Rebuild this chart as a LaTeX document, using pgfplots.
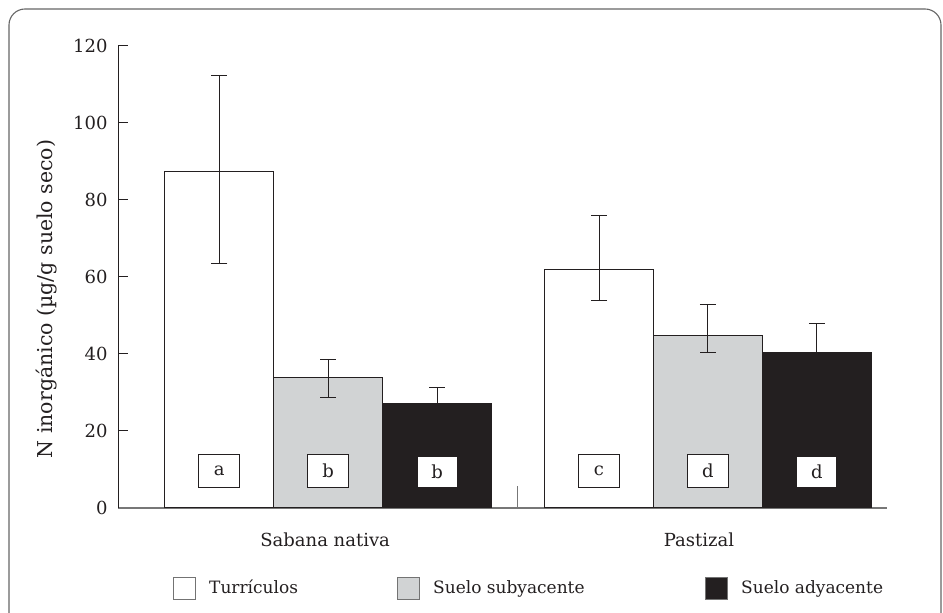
\documentclass[border=0pt]{standalone}
\usepackage{fontspec}
\setmainfont{DejaVu Serif}
\usepackage{pgfplots}
\pgfplotsset{compat=1.18}
\definecolor{barblack}{HTML}{231F20}
\definecolor{bargray}{HTML}{D1D3D4}
\definecolor{axgray}{HTML}{777777}
\begin{document}
\begin{tikzpicture}[font=\fontsize{18}{21}\selectfont]
\useasboundingbox (0,0) rectangle (943pt,613pt);
\draw[black!60, line width=1.1pt, rounded corners=16pt] (9pt,-10pt) -- (9pt,604pt) -- (941pt,604pt) -- (941pt,-10pt);
\begin{axis}[
  at={(118pt,105pt)}, anchor=south west,
  width=769pt, height=462pt, scale only axis,
  xmin=0.07, xmax=7.13, ymin=0, ymax=120,
  axis x line=bottom, axis y line=left,
  x axis line style={-, draw=axgray, line width=1.6pt},
  y axis line style={-, draw=barblack, line width=1pt},
  ytick={0,20,...,120},
  xtick={1.972,5.404}, xticklabels={Sabana nativa, Pastizal},
  xtick style={draw=none},
  ytick style={draw=barblack, line width=1pt},
  major tick length=10pt, tick align=inside,
  /pgf/number format/assume math mode=true,
  ticklabel style={font=\fontsize{18}{21}\selectfont, text=barblack},
  yticklabel style={xshift=-7pt},
  xticklabel style={yshift=-21pt},
  legend columns=3,
  legend style={draw=none, fill=none, at={(axis description cs:0.0715,-0.1747)}, anchor=west, inner sep=0pt,
    nodes={inner sep=0pt, anchor=base west, font=\fontsize{17}{21}\selectfont, text=barblack},
    /tikz/every odd column/.style={column sep=13pt}},
  legend image code/.code={\draw[#1, draw=black!55, line width=1pt] (0pt,-6pt) rectangle (22pt,16pt);},
  error bars/error bar style={line width=1pt, draw=barblack},
  error bars/error mark options={rotate=90, mark size=8pt, line width=1pt, draw=barblack},
]
\addplot[ybar, bar width=1, bar shift=0pt, fill=white, draw=barblack, line width=1pt,
  error bars/.cd, y dir=both, y explicit]
  coordinates {(1,87.5) += (0,24.8) -= (0,23.9) (4.486,62.0) += (0,13.9) -= (0,8.1)};
\addlegendentry{\makebox[188pt][l]{Turrículos}}
\addplot[ybar, bar width=1, bar shift=0pt, fill=bargray, draw=barblack, line width=1pt,
  error bars/.cd, y dir=both, y explicit]
  coordinates {(2,33.8) += (0,4.9) -= (0,5.2) (5.486,44.9) += (0,7.9) -= (0,4.5)};
\addlegendentry{\makebox[272pt][l]{Suelo subyacente}}
\addplot[ybar, bar width=1, bar shift=0pt, fill=barblack, draw=barblack, line width=1pt,
  error bars/.cd, y dir=both, y explicit]
  coordinates {(3,27.2) += (0,4.2) -= (0,4.2) (6.486,40.3) += (0,7.6) -= (0,7.6)};
\addlegendentry{Suelo adyacente}
\draw[axgray, line width=1pt] (axis cs:3.734,0) -- (axis cs:3.734,5.7);
\tikzset{lett/.style={draw=barblack, fill=white, line width=1pt, minimum width=41pt, minimum height=33pt, inner sep=0pt, text=barblack}}
\node[lett] at (axis cs:1,9.6) {a};
\node[lett] at (axis cs:2,9.6) {b};
\node[lett, minimum width=40pt, minimum height=31pt] at (axis cs:3,9.4) {b};
\node[lett] at (axis cs:4.486,9.6) {c};
\node[lett] at (axis cs:5.486,9.6) {d};
\node[lett, minimum width=40pt, minimum height=31pt] at (axis cs:6.486,9.4) {d};
\end{axis}
\node[rotate=90, text=barblack, font=\fontsize{20.5}{24}\selectfont] at (47pt,314pt) {N inorgánico (µg/g suelo seco)};
\end{tikzpicture}
\end{document}
